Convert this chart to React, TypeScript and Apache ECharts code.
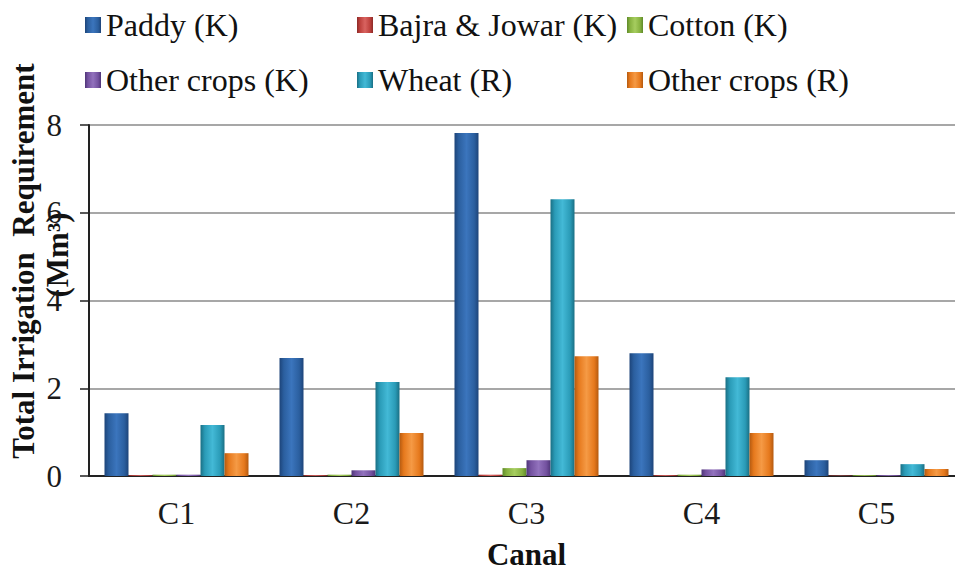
import React, { useEffect, useRef } from "react";
import * as echarts from "echarts";

// Canals and per-crop irrigation requirement (Mm³)
const categories = ["C1", "C2", "C3", "C4", "C5"];
const paddyK = [1.43, 2.69, 7.82, 2.8, 0.36];
const bajraJowarK = [0.02, 0.02, 0.03, 0.02, 0.01];
const cottonK = [0.03, 0.03, 0.18, 0.03, 0.02];
const otherCropsK = [0.03, 0.13, 0.36, 0.15, 0.02];
const wheatR = [1.16, 2.14, 6.31, 2.25, 0.27];
const otherCropsR = [0.52, 0.98, 2.73, 0.98, 0.16];
const yTicks = [0, 2, 4, 6, 8];

const FONT = "Liberation Serif";

// Bevel-like shading across each bar: darker rims, lighter core
const shade = (dark: string, base: string, light: string) =>
  new echarts.graphic.LinearGradient(0, 0, 1, 0, [
    { offset: 0, color: dark },
    { offset: 0.18, color: base },
    { offset: 0.5, color: light },
    { offset: 0.82, color: base },
    { offset: 1, color: dark },
  ]);

const seriesDefs = [
  { name: "Paddy (K)", data: paddyK, c: ["#1d4479", "#2b5f9f", "#3b75bd"] },
  { name: "Bajra & Jowar (K)", data: bajraJowarK, c: ["#8c2a27", "#bd403c", "#d96360"] },
  { name: "Cotton (K)", data: cottonK, c: ["#5f8a2a", "#86b13f", "#a6cd5f"] },
  { name: "Other crops (K)", data: otherCropsK, c: ["#4f3578", "#7452a0", "#9272bd"] },
  { name: "Wheat (R)", data: wheatR, c: ["#1a6f84", "#2a9bb7", "#43b9d6"] },
  { name: "Other crops (R)", data: otherCropsR, c: ["#b45a10", "#e6791d", "#f59a45"] },
];

// Legend laid out as a 3-column, 2-row grid
const legendSlots = [
  { left: 85, top: 7 },
  { left: 357, top: 7 },
  { left: 627, top: 7 },
  { left: 85, top: 62 },
  { left: 357, top: 62 },
  { left: 627, top: 62 },
];

export default function App() {
  const ref = useRef<HTMLDivElement>(null);

  useEffect(() => {
    document.body.style.margin = "0";
    if (!ref.current) return;
    const chart = echarts.init(ref.current, undefined, { renderer: "svg" });

    const legends = seriesDefs.map((s, i) => ({
      data: [s.name],
      left: legendSlots[i].left,
      top: legendSlots[i].top,
      padding: 0,
      itemWidth: 16,
      itemHeight: 16,
      icon: "rect",
      selectedMode: false,
      textStyle: {
        fontFamily: FONT,
        fontSize: 32,
        lineHeight: 36,
        color: "#111",
      },
    }));

    chart.setOption({
      animation: false,
      backgroundColor: "#fff",
      textStyle: { fontFamily: FONT },
      legend: legends,
      grid: {
        left: 89,
        top: 125,
        width: 875,
        height: 351,
        containLabel: false,
        outerBoundsMode: "none",
      },
      xAxis: {
        type: "category",
        data: categories,
        name: "Canal",
        nameLocation: "middle",
        nameGap: 63,
        nameTextStyle: {
          fontFamily: FONT,
          fontSize: 31,
          fontWeight: "bold",
          color: "#111",
        },
        axisLine: { lineStyle: { color: "#222", width: 2 } },
        axisTick: { show: false },
        axisLabel: {
          fontFamily: FONT,
          fontSize: 32,
          color: "#1a1a1a",
          margin: 21,
        },
      },
      yAxis: {
        type: "value",
        min: yTicks[0],
        max: yTicks[yTicks.length - 1],
        interval: 2,
        axisLine: { show: true, lineStyle: { color: "#222", width: 2 } },
        axisTick: { show: true, length: 9, lineStyle: { color: "#222", width: 1.5 } },
        splitLine: { lineStyle: { color: "#8a8a8a", width: 1.5 } },
        axisLabel: {
          fontFamily: FONT,
          fontSize: 31,
          color: "#1a1a1a",
          margin: 27,
        },
      },
      graphic: [
        {
          type: "text",
          x: 23,
          y: 261,
          rotation: Math.PI / 2,
          style: {
            text: "Total Irrigation  Requirement",
            font: `bold 31px "${FONT}"`,
            fill: "#111",
            align: "center",
            verticalAlign: "middle",
          },
        },
        {
          type: "text",
          x: 57,
          y: 255,
          rotation: Math.PI / 2,
          style: {
            text: "(Mm³)",
            font: `bold 31px "${FONT}"`,
            fill: "#111",
            align: "center",
            verticalAlign: "middle",
          },
        },
      ],
      series: seriesDefs.map((s) => ({
        name: s.name,
        type: "bar",
        data: s.data,
        barWidth: 24,
        barGap: "0%",
        itemStyle: { color: shade(s.c[0], s.c[1], s.c[2]) },
      })),
    });

    return () => chart.dispose();
  }, []);

  return <div ref={ref} style={{ width: 955, height: 571 }} />;
}
